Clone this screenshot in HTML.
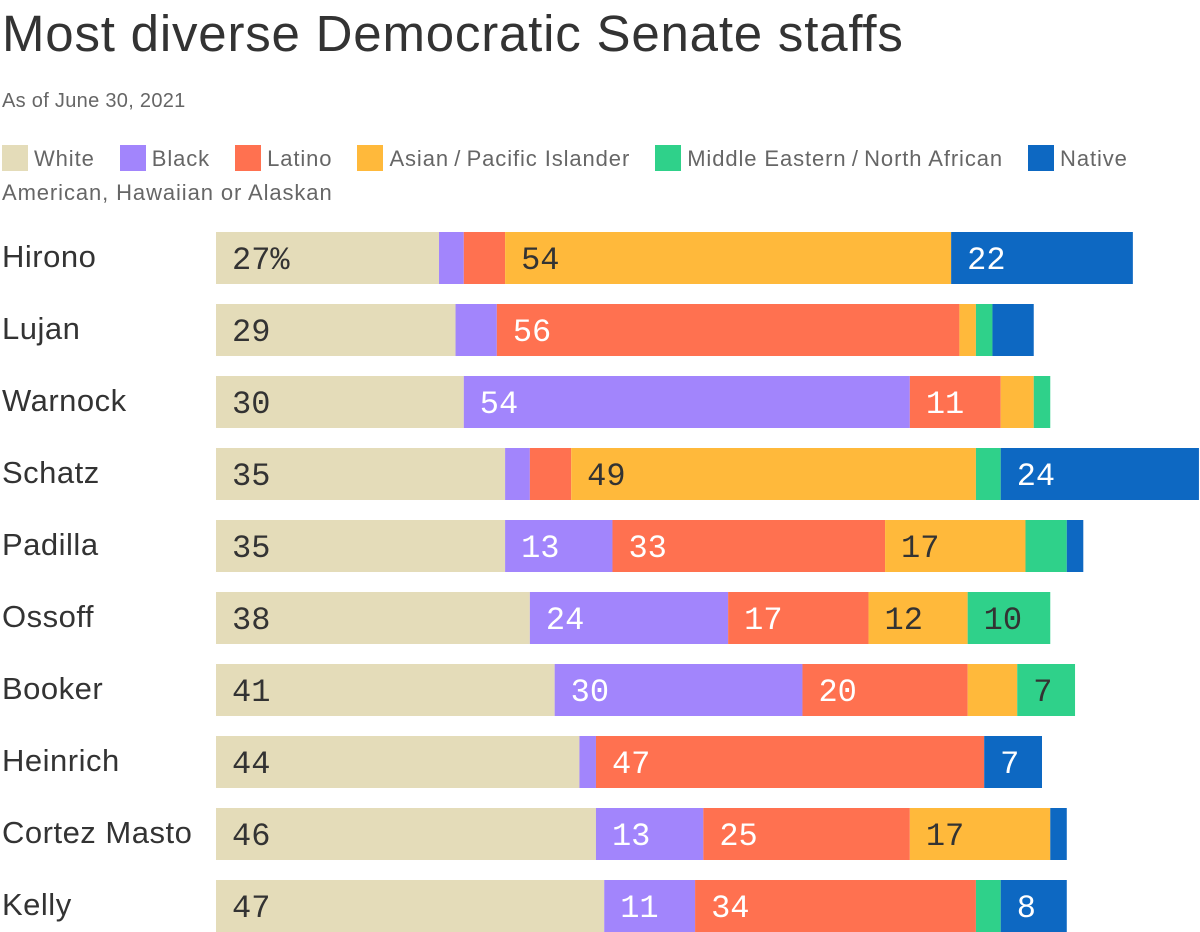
<!DOCTYPE html>
<html><head><meta charset="utf-8">
<style>
body{margin:0;width:1200px;height:932px;background:#fff;font-family:"Liberation Sans",sans-serif;color:#333;overflow:hidden;position:relative}
#title{position:absolute;left:2px;top:4px;font-size:51px;letter-spacing:0.8px;color:#333;white-space:nowrap}
#sub{position:absolute;left:2px;top:90px;font-size:20px;color:#666;letter-spacing:0.3px}
#legend{position:absolute;left:2px;top:142px;width:1180px;font-size:22px;color:#666;line-height:34px;letter-spacing:0.9px}
.li{margin-right:18px}
.sw{display:inline-block;width:26px;height:26px;vertical-align:-5px;margin-right:6px}
</style></head><body>
<div id="title">Most diverse Democratic Senate staffs</div>
<div id="sub">As of June 30, 2021</div>
<div id="legend"></div>
<svg id="chart" width="1200" height="932" style="position:absolute;left:0;top:0"></svg>
<script>
const names=["Hirono","Lujan","Warnock","Schatz","Padilla","Ossoff","Booker","Heinrich","Cortez Masto","Kelly"];
const seriesNames=["White","Black","Latino","Asian\u2009/\u2009Pacific Islander","Middle Eastern\u2009/\u2009North African","Native American, Hawaiian or Alaskan"];
const white=[27,29,30,35,35,38,41,44,46,47];
const black=[3,5,54,3,13,24,30,2,13,11];
const latino=[5,56,11,5,33,17,20,47,25,34];
const asian=[54,2,4,49,17,12,6,0,17,0];
const mena=[0,2,2,3,5,10,7,0,0,3];
const native=[22,5,0,24,2,0,0,7,2,8];
const colors=["#e4dcb9","#a285fc","#ff7150","#ffb93b","#2fd18a","#0d68c2"];
const textColors=["#333","#fff","#fff","#333","#333","#fff"];
const series=[white,black,latino,asian,mena,native];
const x0=216, pxPer=8.26, rowTop=232, rowStep=72, barH=52;
const xs=v=>v*pxPer;
const leg=document.getElementById('legend');
seriesNames.forEach((n,i)=>{
 const s=document.createElement('span');s.className='li';
 
 
 const w=document.createElement('span');w.className='sw';w.style.background=colors[i];
 s.appendChild(w);s.appendChild(document.createTextNode(n));leg.appendChild(s);
 leg.appendChild(document.createTextNode(' '));
});
const svg=document.getElementById('chart');const NS="http://www.w3.org/2000/svg";
names.forEach((nm,r)=>{
 const y=rowTop+r*rowStep;
 const t=document.createElementNS(NS,'text');
 t.setAttribute('x',2);t.setAttribute('y',y+barH/2+9);
 t.setAttribute('font-size','31');t.setAttribute('fill','#333');
 t.setAttribute('font-family','Liberation Sans, sans-serif');
 t.setAttribute('letter-spacing','0.5');
 
 
 t.textContent=nm;svg.appendChild(t);
 let x=x0;
 series.forEach((arr,k)=>{
  const v=arr[r];if(!v)return;
  const w=xs(v);
  const rc=document.createElementNS(NS,'rect');
  rc.setAttribute('x',x);rc.setAttribute('y',y);rc.setAttribute('width',w);rc.setAttribute('height',barH);
  rc.setAttribute('fill',colors[k]);
  
  
  svg.appendChild(rc);
  if(v>=7){
   const l=document.createElementNS(NS,'text');
   l.setAttribute('x',x+16);l.setAttribute('y',y+barH/2+11);
   l.setAttribute('font-size','32');l.setAttribute('fill',textColors[k]);
   l.setAttribute('font-family','Liberation Mono, monospace');
   
   
   l.textContent=v+(r===0&&k===0?'%':'');svg.appendChild(l);
  }
  x+=w;
 });
});
</script>
</body></html>
